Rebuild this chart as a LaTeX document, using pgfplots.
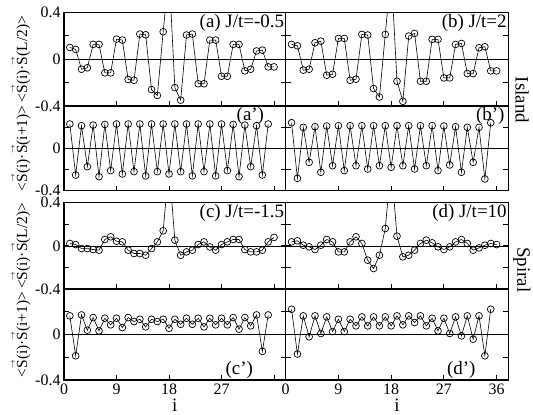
\documentclass[border=0pt]{standalone}
\usepackage{pgfplots}
\pgfplotsset{compat=1.18}
\usepackage{fontspec}
\setmainfont{Liberation Serif}
\newcommand\vS{\ensuremath{\stackrel{\scriptscriptstyle\rightarrow}{\mbox{S}}}}
\newcommand\fs[1]{\fontsize{#1}{#1}\selectfont}
\pgfplotsset{
 panel/.style={scale only axis, xmin=0, xmax=38, ymin=-0.4, ymax=0.4,
  anchor=north west,
  axis line style={line width=1.4bp},
  tick style={line width=0.8bp, black},
  major tick length=5bp,
  tick align=inside,
  xtick={0,9,18,27,36}, xticklabels={},
  ytick={-0.4,-0.2,0,0.2,0.4}, yticklabels={},
  xtick pos=left, ytick pos=both,
  tick label style={font=\fs{16}},
  label style={font=\fs{15.5}},
  ylabel style={yshift=-2bp},
 },
 leftp/.style={panel, width=221.7bp, yticklabels={-0.4,,0,,0.4}},
 rightp/.style={panel, width=222.6bp},
 zl/.style={mark=none, line width=0.6bp, black, forget plot},
 dat/.style={black, line width=0.6bp, mark=o, mark size=3.4bp, mark options={line width=0.7bp, fill=none}},
 bot/.style={xlabel={i}, xlabel style={font=\fs{19}, inner sep=0pt, yshift=-1bp}},
}
\begin{document}
\begin{tikzpicture}
\useasboundingbox (0,0) rectangle (533bp,-415bp);
% ---------------- Row 1
\begin{axis}[leftp, at={(64bp,-12.3bp)}, height=93.7bp, ylabel={<\vS(i)·\vS(L/2)>}]
\addplot[zl] coordinates {(0,0) (38,0)};
\addplot[dat] coordinates {(1,0.10) (2,0.083) (3,-0.086) (4,-0.074) (5,0.126) (6,0.126) (7,-0.117) (8,-0.117) (9,0.171) (10,0.163) (11,-0.174) (12,-0.18) (13,0.214) (14,0.208) (15,-0.26) (16,-0.31) (17,0.234) (18,0.75) (19,-0.243) (20,-0.35) (21,0.206) (22,0.214) (23,-0.21) (24,-0.21) (25,0.163) (26,0.163) (27,-0.146) (28,-0.146) (29,0.126) (30,0.126) (31,-0.10) (32,-0.086) (33,0.07) (34,0.077) (35,-0.066) (36,-0.066)};
\node[anchor=north east, font=\fs{19}, inner sep=1.5bp] at (rel axis cs:1,1) {(a) J/t=-0.5};
\end{axis}
\begin{axis}[rightp, at={(285.7bp,-12.3bp)}, height=93.7bp]
\addplot[zl] coordinates {(0,0) (38,0)};
\addplot[dat] coordinates {(1,0.126) (2,0.114) (3,-0.094) (4,-0.086) (5,0.14) (6,0.154) (7,-0.137) (8,-0.129) (9,0.177) (10,0.177) (11,-0.18) (12,-0.171) (13,0.211) (14,0.206) (15,-0.251) (16,-0.323) (17,0.211) (18,0.75) (19,-0.189) (20,-0.36) (21,0.197) (22,0.22) (23,-0.189) (24,-0.189) (25,0.169) (26,0.169) (27,-0.16) (28,-0.16) (29,0.126) (30,0.134) (31,-0.123) (32,-0.123) (33,0.097) (34,0.106) (35,-0.1) (36,-0.1)};
\node[anchor=north east, font=\fs{19}, inner sep=1.5bp] at (rel axis cs:1,1) {(b) J/t=2};
\end{axis}
% ---------------- Row 2
\begin{axis}[leftp, at={(64bp,-106bp)}, height=84.7bp, yticklabels={-0.4,,0,,}, ylabel={<\vS(i)·\vS(i+1)>}]
\addplot[zl] coordinates {(0,0) (38,0)};
\addplot[dat] coordinates {(1,0.23) (2,-0.252) (3,0.214) (4,-0.173) (5,0.22) (6,-0.267) (7,0.226) (8,-0.21) (9,0.23) (10,-0.242) (11,0.23) (12,-0.22) (13,0.23) (14,-0.26) (15,0.23) (16,-0.22) (17,0.23) (18,-0.242) (19,0.23) (20,-0.22) (21,0.23) (22,-0.26) (23,0.23) (24,-0.22) (25,0.23) (26,-0.26) (27,0.23) (28,-0.21) (29,0.226) (30,-0.267) (31,0.22) (32,-0.173) (33,0.214) (34,-0.252) (35,0.23)};
\node[anchor=north east, font=\fs{19}, inner sep=1.5bp] at (rel axis cs:0.91,1) {(a')};
\end{axis}
\begin{axis}[rightp, at={(285.7bp,-106bp)}, height=84.7bp]
\addplot[zl] coordinates {(0,0) (38,0)};
\addplot[dat] coordinates {(1,0.242) (2,-0.283) (3,0.198) (4,-0.132) (5,0.204) (6,-0.226) (7,0.211) (8,-0.164) (9,0.214) (10,-0.21) (11,0.214) (12,-0.164) (13,0.214) (14,-0.195) (15,0.214) (16,-0.164) (17,0.214) (18,-0.179) (19,0.214) (20,-0.164) (21,0.214) (22,-0.195) (23,0.214) (24,-0.164) (25,0.214) (26,-0.21) (27,0.211) (28,-0.157) (29,0.204) (30,-0.226) (31,0.198) (32,-0.132) (33,0.198) (34,-0.289) (35,0.242)};
\node[anchor=north east, font=\fs{19}, inner sep=1.5bp] at (rel axis cs:0.99,1) {(b')};
\end{axis}
% ---------------- Row 3
\begin{axis}[leftp, at={(64bp,-202.7bp)}, height=86.3bp, ylabel={<\vS(i)·\vS(L/2)>}]
\addplot[zl] coordinates {(0,0) (38,0)};
\addplot[dat] coordinates {(1,0.022) (2,0.012) (3,-0.025) (4,-0.025) (5,-0.034) (6,-0.04) (7,0.059) (8,0.084) (9,0.043) (10,0.037) (11,-0.04) (12,-0.071) (13,-0.071) (14,-0.087) (15,-0.025) (16,0.037) (17,0.14) (18,0.75) (19,0.053) (20,-0.087) (21,-0.056) (22,-0.04) (23,0.012) (24,0.037) (25,-0.01) (26,-0.04) (27,0.012) (28,0.037) (29,0.059) (30,0.059) (31,-0.034) (32,-0.056) (33,-0.056) (34,-0.04) (35,0.037) (36,0.078)};
\node[anchor=north east, font=\fs{19}, inner sep=1.5bp] at (rel axis cs:1,1) {(c) J/t=-1.5};
\end{axis}
\begin{axis}[rightp, at={(285.7bp,-202.7bp)}, height=86.3bp]
\addplot[zl] coordinates {(0,0) (38,0)};
\addplot[dat] coordinates {(1,0.037) (2,0.047) (3,0.006) (4,-0.009) (5,-0.034) (6,0.006) (7,0.059) (8,0.037) (9,-0.056) (10,-0.056) (11,0.037) (12,0.084) (13,0.022) (14,-0.133) (15,-0.21) (16,-0.087) (17,0.161) (18,0.75) (19,0.09) (20,-0.102) (21,-0.087) (22,-0.04) (23,0.022) (24,0.053) (25,0.028) (26,-0.009) (27,-0.034) (28,-0.009) (29,0.037) (30,0.059) (31,0.022) (32,-0.04) (33,-0.019) (34,0.006) (35,0.022) (36,0.012)};
\node[anchor=north east, font=\fs{19}, inner sep=1.5bp] at (rel axis cs:1,1) {(d) J/t=10};
\end{axis}
% ---------------- Row 4
\begin{axis}[leftp, at={(64bp,-289bp)}, height=91bp, yticklabels={-0.4,,0,,}, ylabel={<\vS(i)·\vS(i+1)>}, xticklabels={0,9,18,27,}, bot]
\addplot[zl] coordinates {(0,0) (38,0)};
\addplot[dat] coordinates {(1,0.164) (2,-0.187) (3,0.172) (4,0.038) (5,0.149) (6,0.032) (7,0.143) (8,0.085) (9,0.143) (10,0.061) (11,0.149) (12,0.114) (13,0.134) (14,0.067) (15,0.134) (16,0.114) (17,0.134) (18,0.055) (19,0.134) (20,0.09) (21,0.143) (22,0.09) (23,0.143) (24,0.067) (25,0.143) (26,0.085) (27,0.143) (28,0.085) (29,0.149) (30,0.047) (31,0.149) (32,0.076) (33,0.172) (34,-0.148) (35,0.172)};
\node[anchor=south east, font=\fs{19}, inner sep=1.5bp] at (rel axis cs:0.86,0) {(c')};
\end{axis}
\begin{axis}[rightp, at={(285.7bp,-289bp)}, height=91bp, xticklabels={0,9,18,27,36}, bot]
\addplot[zl] coordinates {(0,0) (38,0)};
\addplot[dat] coordinates {(1,0.222) (2,-0.172) (3,0.164) (4,-0.02) (5,0.164) (6,0.009) (7,0.155) (8,0.026) (9,0.134) (10,0.026) (11,0.134) (12,0.076) (13,0.155) (14,0.076) (15,0.155) (16,0.076) (17,0.155) (18,0.076) (19,0.164) (20,0.085) (21,0.164) (22,0.105) (23,0.164) (24,0.076) (25,0.143) (26,0.032) (27,0.143) (28,0.009) (29,0.155) (30,-0.012) (31,0.164) (32,-0.041) (33,0.164) (34,-0.187) (35,0.222)};
\node[anchor=south east, font=\fs{19}, inner sep=1.5bp] at (rel axis cs:0.86,0) {(d')};
\end{axis}
\node[rotate=-90, font=\fs{19}] at (522bp,-100bp) {Island};
\node[rotate=-90, font=\fs{19}] at (522bp,-270bp) {Spiral};
\end{tikzpicture}
\end{document}
